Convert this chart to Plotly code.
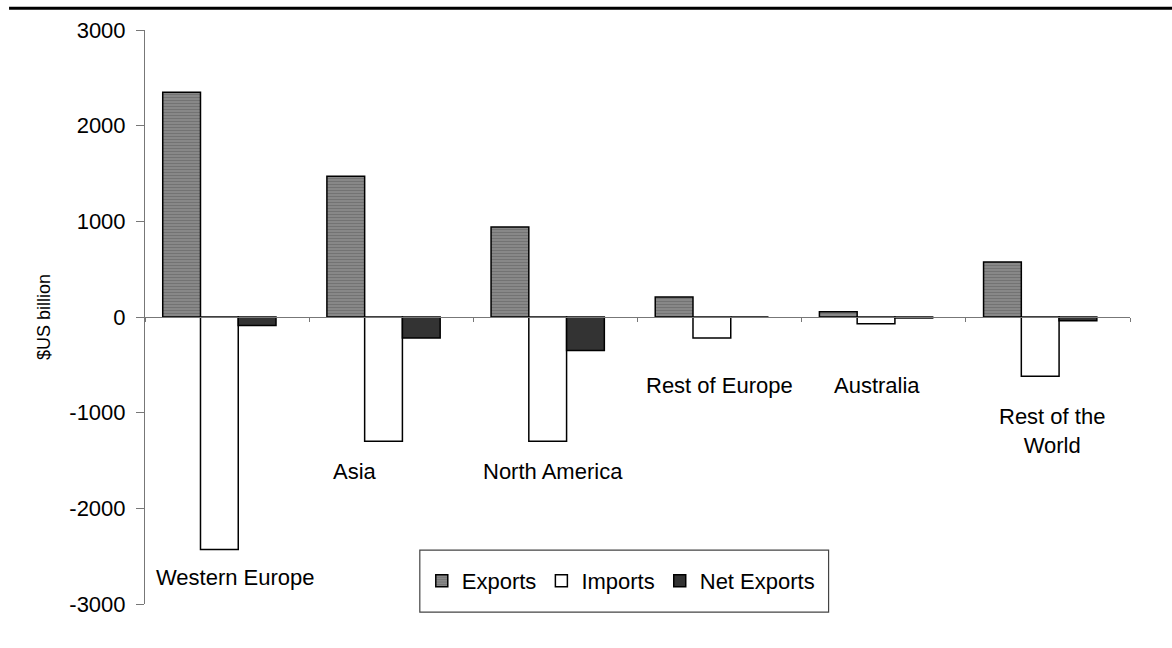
import plotly.graph_objects as go

# Regional trade balances, $US billion
regions = ["Western Europe", "Asia", "North America", "Rest of Europe", "Australia", "Rest of the World"]
exports = [2350, 1470, 940, 210, 55, 575]
imports = [-2430, -1300, -1300, -220, -70, -620]
net_exports = [-90, -220, -350, 0, -10, -40]

y_ticks = [3000, 2000, 1000, 0, -1000, -2000, -3000]
y_tick_text = ["3000", "2000", "1000", "0", "-1000", "-2000", "-3000"]

# Region label placement (value-axis position and horizontal nudge in px)
label_text = ["Western Europe", "Asia", "North America", "Rest of Europe", "Australia", "Rest of the<br>World"]
label_y = [-2728, -1620, -1620, -711, -711, -1192]
label_dx = [8, -36, -2, 0, -7, 4]

FONT = "Liberation Sans, Arial, sans-serif"
edge = dict(color="black", width=1.5)

# bars sit towards the left of each category slot
BAR_W = 0.23
OFFSETS = [-0.392, -0.162, 0.068]

fig = go.Figure()
fig.add_trace(go.Bar(
    x=regions, y=exports, name="Exports", width=BAR_W, offset=OFFSETS[0],
    marker=dict(color="#8c8c8c", line=edge,
                pattern=dict(shape="-", fgcolor="#5a5a5a", bgcolor="#8c8c8c", size=3, solidity=0.45)),
))
fig.add_trace(go.Bar(
    x=regions, y=imports, name="Imports", width=BAR_W, offset=OFFSETS[1],
    marker=dict(color="white", line=edge),
))
fig.add_trace(go.Bar(
    x=regions, y=net_exports, name="Net Exports", width=BAR_W, offset=OFFSETS[2],
    marker=dict(color="#333333", line=edge),
))

for name, txt, yv, dx in zip(regions, label_text, label_y, label_dx):
    fig.add_annotation(x=name, y=yv, xref="x", yref="y", text=txt, showarrow=False,
                       xshift=dx, font=dict(family=FONT, size=22, color="black"),
                       align="center")

# heavy rule across the top of the page
fig.add_shape(type="line", xref="paper", yref="paper", x0=-0.138, x1=1.05, y0=1.038, y1=1.038,
              line=dict(color="black", width=3))
# frame around the legend
fig.add_shape(type="rect", xref="paper", yref="paper", x0=0.279, x1=0.694, y0=-0.014, y1=0.094,
              line=dict(color="#444444", width=1.2), fillcolor="rgba(0,0,0,0)", layer="above")

fig.update_layout(
    width=1172, height=648,
    margin=dict(l=145, r=42, t=30, b=44),
    paper_bgcolor="white", plot_bgcolor="white",
    barmode="overlay",
    font=dict(family=FONT, color="black"),
    showlegend=True,
    legend=dict(orientation="h", x=0.281, xanchor="left", y=0.040, yanchor="middle",
                borderwidth=0, bgcolor="rgba(0,0,0,0)",
                font=dict(family=FONT, size=22), itemwidth=30, traceorder="normal"),
    xaxis=dict(
        type="category", anchor="free", position=0.5,
        showline=True, linecolor="#777777", linewidth=1,
        ticks="outside", tickson="boundaries", ticklen=4, tickcolor="#777777",
        showticklabels=False, showgrid=False, zeroline=False,
    ),
    yaxis=dict(
        range=[-3000, 3000], tickvals=y_ticks, ticktext=y_tick_text,
        showline=True, linecolor="#777777", linewidth=1,
        ticks="outside", ticklen=8, tickcolor="#777777", ticklabelstandoff=6,
        tickfont=dict(family=FONT, size=22, color="black"),
        showgrid=False, zeroline=False,
        title=dict(text="$US billion", font=dict(family=FONT, size=18), standoff=14),
    ),
)

fig.write_html("out.html")
